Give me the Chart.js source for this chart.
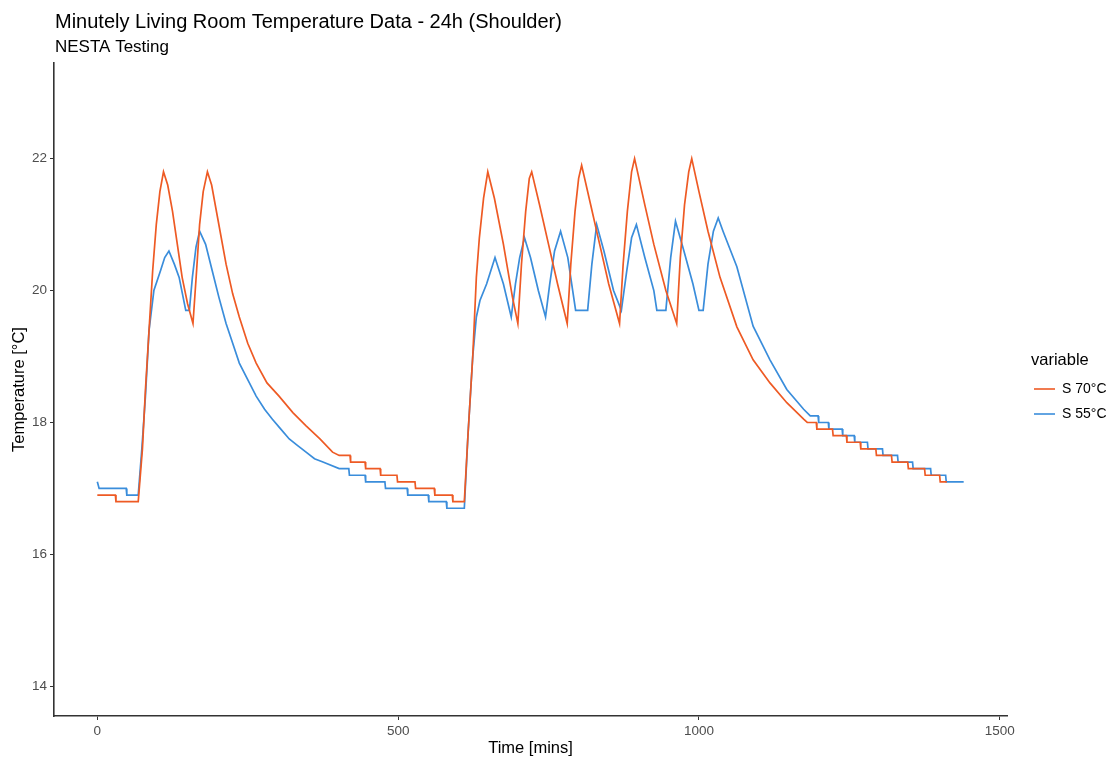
<!DOCTYPE html>
<html>
<head>
<meta charset="utf-8">
<script src="https://cdn.jsdelivr.net/npm/chart.js@4/dist/chart.umd.min.js"></script>
<style>
  html, body { margin: 0; padding: 0; background: #fff; }
  #wrap { width: 1113px; height: 760px; }
</style>
</head>
<body>
<div id="wrap"><canvas id="chart" width="1113" height="760"></canvas></div>
<script>
// series (time in minutes, temperature in °C)
const s70Time = [0, 30, 31, 68, 75, 80, 86, 92, 98, 104, 110, 117, 125, 133, 141, 150, 159, 165, 170, 176, 183, 190, 200, 214, 225, 236, 250, 264, 282, 302, 325, 347, 370, 391,
  402, 420, 421, 445, 446, 470, 471, 498, 499, 528, 529, 560, 561, 590, 591, 610,
  616, 624, 630, 635, 642, 649, 660, 675, 690, 699, 705, 712, 718, 722, 735, 750, 765, 781, 787, 794, 800, 805, 820, 835, 850, 868, 874, 881, 888, 893, 910, 925, 945, 963, 969, 976, 983, 988, 1000, 1015, 1035, 1063, 1090, 1118, 1146, 1174,
  1180, 1195, 1196, 1222, 1223, 1245, 1246, 1268, 1269, 1294, 1295, 1320, 1321, 1347, 1348, 1375, 1376, 1400, 1401, 1412];
const s70Temp = [16.9, 16.9, 16.8, 16.8, 17.6, 18.5, 19.4, 20.3, 21.0, 21.5, 21.8, 21.6, 21.2, 20.7, 20.2, 19.8, 19.5, 20.3, 21.0, 21.5, 21.8, 21.6, 21.1, 20.4, 19.95, 19.6, 19.2, 18.9, 18.6, 18.4, 18.15, 17.95, 17.75, 17.55,
  17.5, 17.5, 17.4, 17.4, 17.3, 17.3, 17.2, 17.2, 17.1, 17.1, 17.0, 17.0, 16.9, 16.9, 16.8, 16.8,
  17.8, 19.0, 20.2, 20.8, 21.4, 21.8, 21.4, 20.7, 19.9, 19.5, 20.4, 21.2, 21.7, 21.8, 21.3, 20.7, 20.1, 19.5, 20.4, 21.2, 21.7, 21.9, 21.3, 20.7, 20.1, 19.5, 20.4, 21.2, 21.8, 22.0, 21.3, 20.7, 20.0, 19.5, 20.5, 21.3, 21.8, 22.0, 21.5, 20.9, 20.2, 19.45, 18.95, 18.6, 18.3, 18.05,
  18.0, 18.0, 17.9, 17.9, 17.8, 17.8, 17.7, 17.7, 17.6, 17.6, 17.5, 17.5, 17.4, 17.4, 17.3, 17.3, 17.2, 17.2, 17.1, 17.1];

const s55Time = [0, 3, 48, 49, 68, 74, 80, 86, 94, 105, 112, 119, 128, 136, 147, 153, 158, 164, 170, 180, 191, 202, 214, 225, 236, 250, 264, 278, 291, 305, 319, 333, 347, 361, 375,
  402, 418, 419, 445, 446, 478, 479, 515, 516, 550, 551, 580, 581, 610,
  616, 624, 630, 636, 647, 661, 675, 688, 695, 702, 710, 720, 733, 745, 752, 760, 770, 782, 795, 815, 822, 830, 842, 858, 871, 880, 888, 896, 910, 925, 930, 945, 953, 961, 975, 990, 1000, 1007, 1015, 1024, 1032, 1040, 1063, 1090, 1118, 1146, 1174,
  1185, 1198, 1199, 1215, 1216, 1238, 1239, 1258, 1259, 1280, 1281, 1305, 1306, 1330, 1331, 1355, 1356, 1385, 1386, 1410, 1411, 1440];
const s55Temp = [17.1, 17.0, 17.0, 16.9, 16.9, 17.6, 18.4, 19.4, 20.0, 20.3, 20.5, 20.6, 20.4, 20.2, 19.7, 19.7, 20.2, 20.66, 20.9, 20.7, 20.3, 19.9, 19.5, 19.2, 18.9, 18.65, 18.4, 18.2, 18.05, 17.9, 17.75, 17.65, 17.55, 17.45, 17.4,
  17.3, 17.3, 17.2, 17.2, 17.1, 17.1, 17.0, 17.0, 16.9, 16.9, 16.8, 16.8, 16.7, 16.7,
  17.8, 19.0, 19.6, 19.85, 20.1, 20.5, 20.1, 19.6, 20.1, 20.5, 20.8, 20.5, 20.0, 19.6, 20.1, 20.6, 20.9, 20.5, 19.7, 19.7, 20.4, 21.0, 20.6, 20.0, 19.7, 20.3, 20.8, 21.0, 20.5, 20.0, 19.7, 19.7, 20.5, 21.05, 20.6, 20.1, 19.7, 19.7, 20.4, 20.9, 21.1, 20.9, 20.36, 19.46, 18.95, 18.5, 18.2,
  18.1, 18.1, 18.0, 18.0, 17.9, 17.9, 17.8, 17.8, 17.7, 17.7, 17.6, 17.6, 17.5, 17.5, 17.4, 17.4, 17.3, 17.3, 17.2, 17.2, 17.1, 17.1];

const xTicks = [0, 500, 1000, 1500];
const yTicks = [14, 16, 18, 20, 22];
const seriesNames = ['S 70°C', 'S 55°C'];
const seriesColors = ['#ee5a24', '#3a8ddb'];

const FONT = '"Liberation Sans", Arial, sans-serif';

function toPoints(ts, vs) {
  return ts.map((t, i) => ({ x: t, y: vs[i] }));
}

// titles, axis titles and legend drawn like the ggplot original
const textPlugin = {
  id: 'ggText',
  afterDraw(chart) {
    const ctx = chart.ctx;
    const area = chart.chartArea;
    ctx.save();
    ctx.fillStyle = '#000';
    ctx.textBaseline = 'alphabetic';
    ctx.textAlign = 'left';
    ctx.font = '20px ' + FONT;
    ctx.fillText('Minutely Living Room Temperature Data - 24h (Shoulder)', 55, 28);
    ctx.font = '17px ' + FONT;
    ctx.fillText('NESTA Testing', 55, 52);

    // axis titles
    ctx.font = '16.5px ' + FONT;
    ctx.textAlign = 'center';
    ctx.textBaseline = 'middle';
    ctx.fillText('Time [mins]', (area.left + area.right) / 2, 748);
    ctx.save();
    ctx.translate(19, (area.top + area.bottom) / 2);
    ctx.rotate(-Math.PI / 2);
    ctx.fillText('Temperature [°C]', 0, 0);
    ctx.restore();

    // legend
    ctx.textAlign = 'left';
    ctx.font = '16.5px ' + FONT;
    ctx.fillText('variable', 1031, 360);
    ctx.font = '14px ' + FONT;
    seriesNames.forEach((name, i) => {
      const y = 389 + i * 25;
      ctx.strokeStyle = seriesColors[i];
      ctx.lineWidth = 1.6;
      ctx.beginPath();
      ctx.moveTo(1034, y);
      ctx.lineTo(1055, y);
      ctx.stroke();
      ctx.fillStyle = '#000';
      ctx.fillText(name, 1062, y);
    });
    ctx.restore();
  }
};

new Chart(document.getElementById('chart'), {
  type: 'line',
  data: {
    datasets: [
      {
        label: seriesNames[0],
        data: toPoints(s70Time, s70Temp),
        borderColor: seriesColors[0],
        borderWidth: 1.7,
        pointRadius: 0,
        tension: 0
      },
      {
        label: seriesNames[1],
        data: toPoints(s55Time, s55Temp),
        borderColor: seriesColors[1],
        borderWidth: 1.7,
        pointRadius: 0,
        tension: 0
      }
    ]
  },
  options: {
    responsive: false,
    animation: false,
    layout: { padding: { left: 0, right: 106, top: 63, bottom: 0 } },
    plugins: {
      legend: { display: false },
      tooltip: { enabled: false }
    },
    scales: {
      x: {
        type: 'linear',
        min: -72,
        max: 1512,
        afterBuildTicks(scale) { scale.ticks = xTicks.map(v => ({ value: v })); },
        afterFit(scale) { scale.height = 44; },
        border: { display: true, color: '#333', width: 1.6 },
        grid: { drawOnChartArea: false, drawTicks: true, tickLength: 4, color: '#333' },
        ticks: { color: '#4d4d4d', font: { family: FONT, size: 13.5 }, padding: 3, maxRotation: 0, callback: v => String(v) }
      },
      y: {
        type: 'linear',
        min: 13.55,
        max: 23.45,
        afterBuildTicks(scale) { scale.ticks = yTicks.map(v => ({ value: v })); },
        afterFit(scale) { scale.width = 54; },
        border: { display: true, color: '#333', width: 1.6 },
        grid: { drawOnChartArea: false, drawTicks: true, tickLength: 4, color: '#333' },
        ticks: { color: '#4d4d4d', font: { family: FONT, size: 13.5 }, padding: 3, callback: v => String(v) }
      }
    }
  },
  plugins: [textPlugin]
});
</script>
</body>
</html>
